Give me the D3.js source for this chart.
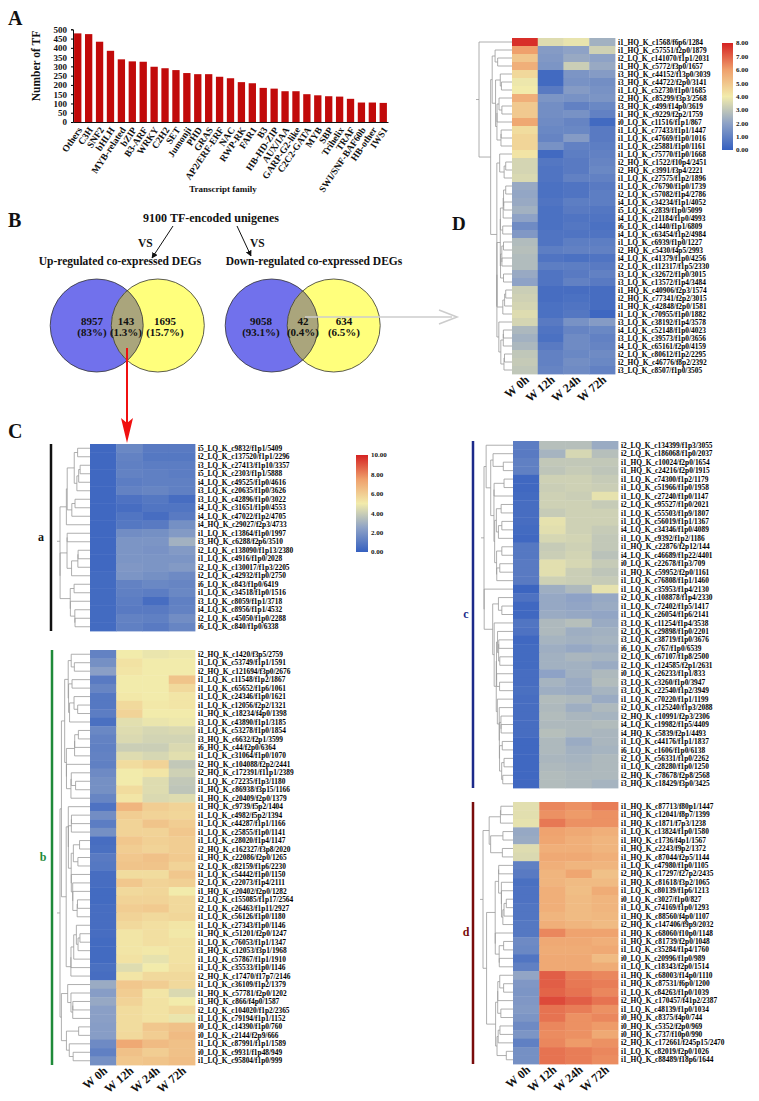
<!DOCTYPE html>
<html><head><meta charset="utf-8">
<script src="https://cdn.jsdelivr.net/npm/d3@7/dist/d3.min.js"></script>
<style>
body{margin:0;background:#fff}
svg{display:block}
text{font-family:"Liberation Serif","Times New Roman",serif;font-weight:bold;fill:#111}
</style>
</head><body>
<svg id="chart" width="759" height="1101"></svg>
<script>
// ---------------- DATA ----------------
const tfFamilies = ["Others","C3H","SNF2","bHLH","MYB-related","bZIP","B3-ARF","WRKY","C2H2","SET","Jumonji","PHD","GRAS","AP2/ERF-ERF","NAC","RWP-RK","FAR1","B3","HB-HD-ZIP","AUX/IAA","GARP-G2-like","C2C2-GATA","MYB","SBP","Trihelix","TRAF","SWI/SNF-BAF60b","HB-other","IWS1"];
const tfCounts = [478,474,433,384,338,327,325,298,290,280,264,258,258,244,236,215,209,184,180,166,166,150,144,139,137,125,105,105,103];
const yTicksA = [0,50,100,150,200,250,300,350,400,450,500];

const vennUpCounts = ["8957","143","1695"];
const vennUpPct = ["(83%)","(1.3%)","(15.7%)"];
const vennDownCounts = ["9058","42","634"];
const vennDownPct = ["(93.1%)","(0.4%)","(6.5%)"];

const timepoints = ["W 0h","W 12h","W 24h","W 72h"];
const colorTicksC = [0,2,4,6,8,10];
const colorTicksD = [0,1,2,3,4,5,6,7,8];

const genesD = ["i1_HQ_K_c1568/f6p6/1284","i1_HQ_K_c57551/f2p0/1879","i2_LQ_K_c141070/f1p1/2031","i1_HQ_K_c5772/f3p0/1657","i3_HQ_K_c44152/f13p0/3039","i3_HQ_K_c44722/f2p0/3141","i1_LQ_K_c52730/f1p0/1685","i2_HQ_K_c85299/f3p3/2568","i3_HQ_K_c499/f14p0/3619","i1_HQ_K_c9229/f2p2/1759","i0_LQ_K_c11516/f1p1/867","i1_LQ_K_c77433/f1p1/1447","i1_LQ_K_c47669/f1p0/1016","i1_LQ_K_c25881/f1p0/1161","i1_LQ_K_c75770/f1p0/1668","i2_HQ_K_c1522/f10p4/2451","i2_HQ_K_c3991/f3p4/2221","i1_LQ_K_c27575/f1p2/1896","i1_LQ_K_c76790/f1p0/1739","i2_LQ_K_c57082/f1p4/2786","i4_LQ_K_c34234/f1p1/4052","i5_LQ_K_c2839/f1p0/5099","i4_LQ_K_c21184/f1p0/4993","i6_LQ_K_c1440/f1p1/6809","i4_LQ_K_c63454/f1p2/4984","i1_LQ_K_c6939/f1p0/1227","i2_HQ_K_c5430/f4p5/2993","i4_LQ_K_c41379/f1p0/4256","i2_LQ_K_c112317/f1p5/2330","i3_LQ_K_c32672/f1p0/3015","i3_LQ_K_c13572/f1p4/3484","i1_HQ_K_c40906/f2p3/1574","i2_HQ_K_c77341/f2p2/3015","i1_HQ_K_c42848/f2p0/1581","i1_LQ_K_c70955/f1p0/1882","i3_LQ_K_c38192/f1p4/3578","i4_LQ_K_c52148/f1p0/4023","i3_LQ_K_c39573/f1p0/3656","i4_LQ_K_c65161/f2p0/4159","i2_LQ_K_c80612/f1p2/2295","i2_HQ_K_c46776/f8p2/2392","i3_LQ_K_c8507/f1p0/3505"];
const valuesD = [[7.8,3.6,3.8,2.4],[6.0,1.8,2.0,3.3],[5.0,1.7,2.2,2.0],[5.6,1.6,3.2,2.2],[4.5,0.3,1.6,1.8],[3.9,0.3,1.5,1.4],[4.0,0.8,1.8,1.5],[5.6,1.6,1.5,1.6],[4.9,1.4,1.0,1.2],[4.9,1.4,1.5,1.0],[5.8,1.3,1.1,0.3],[4.4,1.2,1.2,0.8],[4.6,1.1,1.8,0.8],[4.6,1.5,1.0,0.9],[4.2,0.3,0.9,1.0],[3.4,0.7,0.8,1.1],[3.4,0.6,0.8,1.2],[3.5,0.6,1.0,1.0],[2.2,0.5,0.6,0.8],[2.1,0.5,0.6,0.9],[2.2,0.6,0.9,0.9],[2.4,0.5,0.8,0.7],[2.0,0.5,0.6,0.6],[1.3,0.5,0.7,0.5],[1.7,0.6,0.6,0.6],[2.7,0.6,0.9,0.9],[2.8,0.9,1.0,1.0],[2.7,0.6,0.5,0.6],[2.7,0.9,0.9,0.8],[2.2,0.6,0.8,1.0],[2.0,0.6,1.0,0.8],[3.2,0.4,0.4,0.4],[3.3,0.4,0.5,0.4],[3.4,0.5,0.6,0.4],[3.6,0.5,0.7,0.2],[3.4,0.8,1.5,1.8],[2.6,0.6,1.1,1.2],[2.4,0.5,1.3,1.0],[2.6,0.8,1.3,1.1],[3.0,1.0,1.2,1.3],[3.1,1.0,1.4,1.2],[3.0,1.1,1.3,1.0]];

const genesCa = ["i5_LQ_K_c9832/f1p1/5409","i2_LQ_K_c137520/f1p1/2296","i3_LQ_K_c27413/f1p10/3357","i5_LQ_K_c2303/f1p1/5888","i4_LQ_K_c49525/f1p0/4616","i3_LQ_K_c20635/f1p0/3626","i3_LQ_K_c42896/f1p0/3022","i4_LQ_K_c31651/f1p0/4553","i4_LQ_K_c47022/f1p2/4705","i4_HQ_K_c29027/f2p3/4733","i1_LQ_K_c13864/f1p0/1997","i3_HQ_K_c6288/f2p6/3510","i2_LQ_K_c138090/f1p13/2380","i1_LQ_K_c4916/f1p0/2028","i2_LQ_K_c130017/f1p3/2205","i2_LQ_K_c42932/f1p0/2750","i6_LQ_K_c843/f1p0/6419","i1_LQ_K_c34518/f1p0/1516","i3_LQ_K_c8059/f1p1/3718","i4_LQ_K_c8956/f1p1/4532","i2_LQ_K_c45050/f1p0/2288","i6_LQ_K_c840/f1p0/6338"];
const valuesCa = [[0.3,1.5,1.0,1.0],[0.3,1.3,0.9,0.9],[0.3,1.2,1.1,1.1],[0.3,1.3,1.2,1.1],[0.3,1.1,1.2,1.2],[0.3,1.3,1.4,1.2],[0.3,0.7,0.9,0.5],[0.3,0.5,0.8,0.8],[0.3,0.8,0.5,1.0],[0.3,0.9,1.0,1.8],[0.3,1.7,1.8,2.2],[0.3,2.0,2.0,3.0],[0.3,2.0,1.9,2.2],[0.3,2.0,2.0,2.0],[0.3,2.1,2.0,2.2],[0.4,2.0,1.8,1.6],[0.4,1.3,1.5,1.4],[0.4,1.2,1.1,1.5],[0.4,1.1,0.5,1.2],[0.4,1.0,1.0,1.3],[0.4,1.3,1.2,1.7],[0.4,1.2,1.0,1.4]];

const genesCb = ["i2_HQ_K_c1420/f3p5/2759","i1_LQ_K_c53749/f1p1/1591","i2_HQ_K_c121694/f3p0/2676","i1_LQ_K_c11548/f1p2/1867","i1_LQ_K_c65652/f1p6/1061","i1_LQ_K_c24346/f1p0/1621","i1_LQ_K_c12056/f2p2/1321","i1_HQ_K_c18234/f4p0/1398","i3_LQ_K_c43890/f1p1/3185","i1_LQ_K_c53278/f1p0/1854","i3_HQ_K_c6632/f2p1/3599","i6_HQ_K_c44/f2p0/6364","i1_LQ_K_c31064/f1p0/1070","i2_HQ_K_c104088/f2p2/2441","i2_HQ_K_c172391/f11p1/2389","i1_LQ_K_c72235/f1p3/1180","i1_HQ_K_c86938/f3p15/1166","i1_HQ_K_c20409/f2p0/1379","i1_HQ_K_c9739/f5p2/1404","i1_LQ_K_c4982/f5p2/1394","i1_LQ_K_c44287/f1p1/1166","i1_LQ_K_c25855/f1p0/1141","i1_LQ_K_c28020/f1p4/1147","i2_HQ_K_c162327/f3p8/2020","i1_HQ_K_c22086/f2p0/1265","i2_LQ_K_c82159/f1p6/2230","i1_LQ_K_c54442/f1p0/1150","i2_LQ_K_c22073/f1p4/2111","i1_HQ_K_c20402/f2p0/1282","i2_LQ_K_c155085/f1p17/2564","i2_LQ_K_c26463/f1p11/2927","i1_LQ_K_c56126/f1p0/1180","i1_LQ_K_c27343/f1p0/1146","i1_HQ_K_c51201/f2p0/1247","i1_LQ_K_c76053/f1p1/1347","i1_HQ_K_c12053/f3p1/1968","i1_LQ_K_c57867/f1p1/1910","i1_LQ_K_c35533/f1p0/1146","i2_HQ_K_c17470/f17p7/2146","i1_LQ_K_c36109/f1p2/1379","i1_HQ_K_c57781/f2p0/1202","i1_HQ_K_c866/f4p0/1587","i2_LQ_K_c104020/f1p2/2365","i1_LQ_K_c79194/f1p1/1152","i0_LQ_K_c14390/f1p0/760","i0_LQ_K_c2144/f2p9/666","i1_LQ_K_c87991/f1p1/1589","i0_LQ_K_c9931/f1p48/949","i1_LQ_K_c95804/f1p0/999"];
const valuesCb = [[1.3,5.0,4.8,4.9],[1.8,5.3,5.0,5.0],[2.4,5.2,5.0,5.0],[1.0,5.0,5.0,6.3],[1.4,5.0,5.0,5.6],[0.9,5.1,5.0,5.2],[0.9,5.6,5.1,5.2],[1.1,5.8,5.0,5.0],[0.6,4.6,4.8,4.9],[1.5,4.5,4.3,4.4],[1.3,4.4,4.2,4.2],[1.2,4.0,4.0,4.4],[1.3,4.5,4.3,4.6],[1.2,5.5,5.8,3.8],[1.6,5.0,5.2,4.1],[1.8,5.0,4.5,3.8],[1.8,5.5,4.5,3.7],[1.4,5.2,4.4,4.5],[0.7,6.8,6.0,5.8],[1.7,6.0,5.8,5.7],[1.1,5.8,6.3,6.0],[1.8,5.8,5.8,6.2],[0.5,6.2,5.9,6.0],[0.6,6.0,5.8,6.0],[1.0,6.2,6.4,6.1],[0.9,6.3,6.3,5.8],[0.5,5.5,5.5,6.2],[0.5,6.2,5.8,5.9],[0.4,5.6,5.7,5.0],[0.4,5.8,5.8,5.6],[0.5,6.0,6.1,5.6],[0.5,5.8,5.6,5.7],[0.5,5.6,5.4,5.2],[0.5,5.2,5.4,5.1],[0.4,5.2,5.4,5.3],[0.4,5.2,5.1,5.3],[0.4,5.3,4.7,5.3],[0.6,4.5,5.0,5.4],[0.5,5.2,5.6,5.6],[2.8,6.2,6.0,5.6],[2.3,6.0,5.2,4.4],[2.7,5.8,5.3,5.0],[2.4,5.5,5.3,5.6],[2.4,5.5,5.3,4.8],[2.3,5.5,6.2,6.4],[2.3,5.6,6.0,6.6],[1.6,7.2,6.6,6.4],[1.2,6.4,6.0,6.4],[1.8,6.2,6.3,6.5]];

const genesCc = ["i2_LQ_K_c134399/f1p3/3055","i2_LQ_K_c186068/f1p0/2037","i1_HQ_K_c10024/f2p0/1654","i1_HQ_K_c24216/f2p0/1915","i1_LQ_K_c74300/f1p2/1179","i1_LQ_K_c51966/f1p0/1958","i1_LQ_K_c27240/f1p0/1147","i2_LQ_K_c95527/f1p0/2021","i1_LQ_K_c55503/f1p9/1807","i1_LQ_K_c56019/f1p1/1367","i4_LQ_K_c34346/f1p0/4089","i1_LQ_K_c9392/f1p2/1186","i1_HQ_K_c22876/f2p12/144","i4_LQ_K_c46689/f1p22/4401","i0_LQ_K_c22678/f1p3/709","i1_HQ_K_c59952/f2p0/1161","i1_LQ_K_c76808/f1p1/1460","i1_LQ_K_c35953/f1p4/2130","i2_LQ_K_c108878/f1p4/2330","i1_LQ_K_c72402/f1p5/1417","i1_LQ_K_c26054/f1p6/2141","i3_LQ_K_c11254/f1p4/3538","i2_LQ_K_c29898/f1p0/2201","i3_LQ_K_c38719/f1p0/3676","i6_LQ_K_c767/f1p0/6539","i2_LQ_K_c67107/f1p8/2500","i2_LQ_K_c124585/f2p1/2631","i0_LQ_K_c26233/f1p1/833","i3_LQ_K_c3260/f1p0/3947","i3_LQ_K_c22540/f1p2/3949","i1_LQ_K_c70220/f1p1/1199","i2_LQ_K_c125240/f1p3/2088","i2_HQ_K_c10991/f2p3/2306","i4_LQ_K_c19982/f1p5/4409","i4_HQ_K_c5839/f2p1/4493","i1_LQ_K_c44176/f1p1/1837","i6_LQ_K_c1606/f1p0/6138","i2_LQ_K_c56331/f1p0/2262","i1_LQ_K_c28280/f1p0/1250","i2_HQ_K_c78678/f2p8/2568","i3_HQ_K_c18429/f3p0/3425"];
const valuesCc = [[1.1,3.5,3.5,2.8],[1.0,3.1,4.3,3.5],[1.2,3.8,3.8,3.8],[1.2,3.7,3.9,3.7],[0.3,4.1,4.1,3.9],[0.3,4.0,4.1,4.0],[0.4,4.1,4.0,4.7],[0.5,4.1,4.1,3.9],[0.5,3.9,4.1,4.1],[0.5,4.7,4.1,4.1],[0.4,4.6,4.1,3.9],[0.3,4.3,4.2,3.8],[0.9,3.9,4.1,3.8],[0.9,4.0,4.2,3.6],[1.0,4.6,4.3,3.9],[1.0,4.6,4.0,3.7],[1.0,4.1,4.0,3.9],[0.2,2.9,3.3,4.7],[0.7,2.7,2.5,2.7],[0.3,2.7,2.6,2.8],[0.3,2.8,2.7,2.6],[0.8,3.3,3.5,2.8],[0.7,3.3,2.9,3.0],[0.3,3.1,3.0,3.1],[0.4,2.9,2.7,2.9],[0.4,3.0,3.2,3.1],[0.4,3.0,3.0,2.8],[0.5,2.5,3.0,3.3],[0.5,3.1,2.8,3.4],[0.6,2.9,2.8,3.1],[0.5,3.4,3.3,2.8],[0.5,3.3,2.9,3.3],[0.5,3.4,3.2,3.1],[0.5,3.3,3.3,3.4],[0.5,3.5,3.3,3.2],[0.3,3.3,2.8,3.2],[0.3,3.3,3.0,3.1],[0.3,3.2,3.1,3.3],[0.3,3.3,3.2,3.3],[0.3,3.4,3.3,3.3],[0.3,3.4,3.3,3.1]];

const genesCd = ["i1_HQ_K_c87713/f80p1/1447","i1_HQ_K_c12041/f8p7/1399","i1_HQ_K_c1871/f7p3/1238","i1_LQ_K_c13824/f1p0/1580","i1_HQ_K_c1736/f4p1/1567","i1_HQ_K_c2243/f9p2/1372","i1_HQ_K_c87044/f2p5/1144","i1_LQ_K_c47980/f1p0/1105","i2_HQ_K_c17297/f27p2/2435","i1_HQ_K_c81618/f3p2/1065","i1_LQ_K_c80139/f1p6/1213","i0_LQ_K_c3027/f1p0/827","i1_LQ_K_c74169/f1p0/1293","i1_HQ_K_c88560/f4p0/1107","i2_HQ_K_c147406/f9p9/2032","i1_HQ_K_c68060/f10p0/1148","i1_HQ_K_c81739/f2p0/1048","i1_LQ_K_c35284/f1p4/1760","i0_LQ_K_c20996/f1p0/989","i1_LQ_K_c18343/f2p0/1514","i1_HQ_K_c68003/f14p0/1110","i1_HQ_K_c87531/f6p0/1200","i1_LQ_K_c84263/f1p0/1039","i2_HQ_K_c170457/f41p2/2387","i1_LQ_K_c48139/f1p0/1034","i0_HQ_K_c8375/f4p0/744","i0_HQ_K_c5352/f2p0/969","i0_HQ_K_c737/f10p0/990","i2_HQ_K_c172661/f245p15/2470","i1_LQ_K_c82019/f2p0/1026","i1_HQ_K_c88489/f18p6/1644"];
const valuesCd = [[4.6,8.0,7.8,8.2],[4.6,7.8,7.6,7.8],[4.7,8.3,7.8,7.8],[2.7,7.4,7.2,7.0],[2.8,7.3,7.0,6.8],[4.5,7.0,7.0,6.8],[4.4,7.2,7.2,7.0],[1.2,7.0,6.8,6.8],[1.0,6.8,7.3,6.4],[0.6,6.8,6.6,6.6],[0.7,7.0,6.5,7.1],[0.7,7.0,6.6,6.8],[0.8,7.0,6.6,6.8],[0.8,6.8,6.6,6.7],[0.9,7.0,6.8,6.6],[0.9,8.0,7.4,7.4],[1.6,7.2,7.2,7.0],[1.5,7.1,7.1,7.2],[0.8,7.2,7.2,6.6],[1.2,7.2,7.2,7.1],[2.6,8.8,8.2,8.0],[2.1,8.8,8.3,8.2],[2.0,8.7,8.4,8.0],[2.1,9.2,8.8,8.4],[2.2,8.4,8.2,7.8],[2.0,8.4,7.8,8.0],[1.6,8.0,7.8,7.6],[2.0,7.9,7.8,7.2],[1.2,8.0,7.6,7.8],[1.8,8.4,8.2,8.0],[1.8,8.4,8.2,7.9]];

// ---------------- DRAWING ----------------
const svg = d3.select("#chart");
const defs = svg.append("defs");
defs.append("marker").attr("id","arrBlack").attr("viewBox","0 0 10 10").attr("refX",9).attr("refY",5)
  .attr("markerWidth",6).attr("markerHeight",6).attr("orient","auto-start-reverse")
  .append("path").attr("d","M0,0 L10,5 L0,10 z").attr("fill","#111");

const colorStops = ["#3560c0","#8ea2c6","#f2ebab","#efa06c","#d52222"];
function makeColor(vmax){
  return d3.scaleLinear().domain([0,.25,.5,.75,1].map(f=>f*vmax)).range(colorStops).interpolate(d3.interpolateRgb).clamp(true);
}

// ---- Panel A ----
svg.append("text").attr("x",8).attr("y",25).attr("font-size",20).text("A");
const xA = d3.scaleBand().domain(tfFamilies).range([73,388]).paddingInner(0.33).paddingOuter(0.1);
const yA = d3.scaleLinear().domain([0,500]).range([122,29.3]);
svg.append("g").selectAll("rect").data(tfFamilies).join("rect")
  .attr("x",d=>xA(d)).attr("width",xA.bandwidth())
  .attr("y",(d,i)=>yA(tfCounts[i])).attr("height",(d,i)=>yA(0)-yA(tfCounts[i]))
  .attr("fill","#c10a0a");
const gyA = svg.append("g").attr("transform","translate(73,0)")
  .call(d3.axisLeft(yA).tickValues(yTicksA).tickSize(2).tickPadding(4));
gyA.selectAll("text").attr("font-size",9).attr("font-family","Liberation Serif").attr("font-weight","bold");
gyA.select(".domain").attr("stroke","#111");
const gxA = svg.append("g").attr("transform","translate(0,122)")
  .call(d3.axisBottom(xA).tickSize(0).tickSizeOuter(0));
gxA.select(".domain").attr("stroke","#111");
gxA.selectAll("text").attr("font-size",9.5).attr("font-family","Liberation Serif").attr("font-weight","bold")
  .attr("text-anchor","end").attr("x",0).attr("y",0).attr("dy","0.35em")
  .attr("transform","translate(2,6) rotate(-56)");
svg.append("text").attr("transform","translate(40,66) rotate(-90)").attr("text-anchor","middle").attr("font-size",11.5).text("Number of TF");
svg.append("text").attr("x",223).attr("y",192).attr("text-anchor","middle").attr("font-size",9).text("Transcript family");

// ---- Panel B ----
svg.append("text").attr("x",8).attr("y",227).attr("font-size",20).text("B");
svg.append("text").attr("x",211).attr("y",222).attr("text-anchor","middle").attr("font-size",12).text("9100 TF-encoded unigenes");
svg.append("line").attr("x1",173).attr("y1",226).attr("x2",152).attr("y2",258).attr("stroke","#111").attr("stroke-width",1).attr("marker-end","url(#arrBlack)");
svg.append("line").attr("x1",237).attr("y1",226).attr("x2",251).attr("y2",256).attr("stroke","#111").attr("stroke-width",1).attr("marker-end","url(#arrBlack)");
svg.append("text").attr("x",138).attr("y",247).attr("font-size",11.5).text("VS");
svg.append("text").attr("x",250).attr("y",247).attr("font-size",11.5).text("VS");
svg.append("text").attr("x",120).attr("y",265).attr("text-anchor","middle").attr("font-size",11.5).text("Up-regulated co-expressed DEGs");
svg.append("text").attr("x",314).attr("y",265).attr("text-anchor","middle").attr("font-size",11.5).text("Down-regulated co-expressed DEGs");

function venn(id, cx1, cx2, cy, r, counts, pcts, textX){
  defs.append("clipPath").attr("id",id).append("circle").attr("cx",cx1).attr("cy",cy).attr("r",r);
  const g = svg.append("g");
  g.append("circle").attr("cx",cx1).attr("cy",cy).attr("r",r).attr("fill","#7171ec");
  g.append("circle").attr("cx",cx2).attr("cy",cy).attr("r",r).attr("fill","#ffff7c");
  g.append("circle").attr("cx",cx2).attr("cy",cy).attr("r",r).attr("fill","#aaa57c").attr("clip-path",`url(#${id})`);
  g.append("circle").attr("cx",cx1).attr("cy",cy).attr("r",r).attr("fill","none").attr("stroke","#333").attr("stroke-width",0.8);
  g.append("circle").attr("cx",cx2).attr("cy",cy).attr("r",r).attr("fill","none").attr("stroke","#333").attr("stroke-width",0.8);
  counts.forEach((c,i)=>{
    g.append("text").attr("x",textX[i]).attr("y",cy-1).attr("text-anchor","middle").attr("font-size",11).text(c);
    g.append("text").attr("x",textX[i]).attr("y",cy+10).attr("text-anchor","middle").attr("font-size",11).text(pcts[i]);
  });
}
venn("clipUp", 96.7, 157.8, 325.5, 46.5, vennUpCounts, vennUpPct, [92,126,165]);
venn("clipDown", 271.7, 333.7, 325.5, 46.5, vennDownCounts, vennDownPct, [261,303,344]);

// red arrow to C
svg.append("line").attr("x1",127).attr("y1",348).attr("x2",127).attr("y2",425).attr("stroke","#f01010").attr("stroke-width",2);
svg.append("path").attr("d","M121,418 L127,443 L133,418 L127,423 Z").attr("fill","#f01010");
// grey arrow to D
svg.append("line").attr("x1",305).attr("y1",317).attr("x2",452).attr("y2",317).attr("stroke","#cccccc").attr("stroke-width",1.6);
svg.append("path").attr("d","M439,310 L457,317 L439,324").attr("fill","none").attr("stroke","#cccccc").attr("stroke-width",1.6);

// ---- Heatmap helper ----
function clusterRows(values){
  const dist=(a,b)=>Math.hypot(...values[a].map((x,k)=>x-values[b][k]));
  let cl = values.map((v,i)=>({members:[i], pos:i, h:0}));
  while(cl.length>1){
    let best=0,bd=Infinity;
    for(let i=0;i<cl.length-1;i++){
      let s=0;
      for(const a of cl[i].members) for(const b of cl[i+1].members) s+=dist(a,b);
      s/=cl[i].members.length*cl[i+1].members.length;
      if(s<bd){bd=s;best=i;}
    }
    const A=cl[best],B=cl[best+1];
    const node={members:A.members.concat(B.members), pos:(A.pos+B.pos)/2, h:Math.max(bd,A.h,B.h)+0.01, kids:[A,B]};
    cl.splice(best,2,node);
  }
  return cl[0];
}

function heatmap(o){
  const n = o.genes.length;
  const x = d3.scaleBand().domain(timepoints).range([o.x0,o.x1]);
  const y = d3.scaleBand().domain(d3.range(n)).range([o.y0,o.y1]);
  const col = makeColor(o.vmax);
  const g = svg.append("g");
  o.values.forEach((row,i)=>{
    row.forEach((v,j)=>{
      g.append("rect").attr("x",x(timepoints[j])).attr("y",y(i))
        .attr("width",x.bandwidth()+0.4).attr("height",y.bandwidth()+0.4).attr("fill",col(v));
    });
  });
  g.selectAll("text.gene").data(o.genes).join("text").attr("class","gene")
    .attr("x",o.x1+3).attr("y",(d,i)=>y(i)+y.bandwidth()/2).attr("dy","0.35em")
    .attr("font-size",7.4).style("fill","#000").text(d=>d);
  const root = clusterRows(o.values);
  const xs = h => h===0 ? o.x0 : o.x0 - 3 - (o.dendroW-3)*Math.pow(h/root.h,0.6);
  const yc = p => o.y0 + (p+0.5)*y.step();
  const dg = g.append("g").attr("stroke","#9a9a9a").attr("stroke-width",0.8).attr("fill","none");
  (function walk(nd){
    if(!nd.kids) return;
    const xn = xs(nd.h);
    nd.kids.forEach(k=>{
      dg.append("line").attr("x1",xs(k.h)).attr("x2",xn).attr("y1",yc(k.pos)).attr("y2",yc(k.pos));
      walk(k);
    });
    dg.append("line").attr("x1",xn).attr("x2",xn).attr("y1",yc(nd.kids[0].pos)).attr("y2",yc(nd.kids[1].pos));
  })(root);
  dg.append("line").attr("x1",xs(root.h)).attr("x2",xs(root.h)-3).attr("y1",yc(root.pos)).attr("y2",yc(root.pos));
  if(o.bar){
    g.append("line").attr("x1",o.bar.x).attr("x2",o.bar.x).attr("y1",o.y0).attr("y2",o.y1)
      .attr("stroke",o.bar.color).attr("stroke-width",2.5);
    g.append("text").attr("x",o.bar.lx).attr("y",(o.y0+o.y1)/2+3).attr("text-anchor","middle")
      .attr("font-size",12).style("fill",o.bar.color).text(o.bar.label);
  }
  if(o.colLabels){
    g.selectAll("text.tp").data(timepoints).join("text").attr("class","tp")
      .attr("text-anchor","end").attr("font-size",12)
      .attr("transform",d=>`translate(${x(d)+x.bandwidth()/2+5},${o.y1+7}) rotate(-40)`)
      .text(d=>d);
  }
}

function colorBar(x0,y0,w,h,vmax,ticks){
  const id="grad"+vmax;
  const grad = defs.append("linearGradient").attr("id",id).attr("x1",0).attr("y1",1).attr("x2",0).attr("y2",0);
  colorStops.forEach((c,i)=>grad.append("stop").attr("offset",i/4).attr("stop-color",c));
  svg.append("rect").attr("x",x0).attr("y",y0).attr("width",w).attr("height",h).attr("fill",`url(#${id})`);
  const s = d3.scaleLinear().domain([0,vmax]).range([y0+h,y0]);
  svg.append("g").selectAll("text").data(ticks).join("text")
    .attr("x",x0+w+3).attr("y",d=>s(d)).attr("dy","0.35em").attr("font-size",7).text(d=>d.toFixed(2));
}

// ---- Panel D ----
svg.append("text").attr("x",452).attr("y",230).attr("font-size",19).text("D");
heatmap({genes:genesD, values:valuesD, x0:512, x1:615, y0:38, y1:374, vmax:8, dendroW:33, colLabels:true});
colorBar(722,43,11,107,8,colorTicksD);

// ---- Panel C ----
svg.append("text").attr("x",8).attr("y",438).attr("font-size",20).text("C");
heatmap({genes:genesCa, values:valuesCa, x0:90, x1:195, y0:444, y1:631, vmax:10, dendroW:30,
  bar:{x:51,color:"#111",label:"a",lx:41}});
heatmap({genes:genesCb, values:valuesCb, x0:90, x1:195, y0:650, y1:1065, vmax:10, dendroW:30,
  bar:{x:52,color:"#1f8a3a",label:"b",lx:43}, colLabels:true});
colorBar(356,455,12,97,10,colorTicksC);
heatmap({genes:genesCc, values:valuesCc, x0:513, x1:618, y0:441, y1:788, vmax:10, dendroW:29,
  bar:{x:473,color:"#1c2a8a",label:"c",lx:466}});
heatmap({genes:genesCd, values:valuesCd, x0:513, x1:618, y0:802, y1:1064, vmax:10, dendroW:30,
  bar:{x:473,color:"#7a0c0c",label:"d",lx:466}, colLabels:true});
</script>
</body></html>
